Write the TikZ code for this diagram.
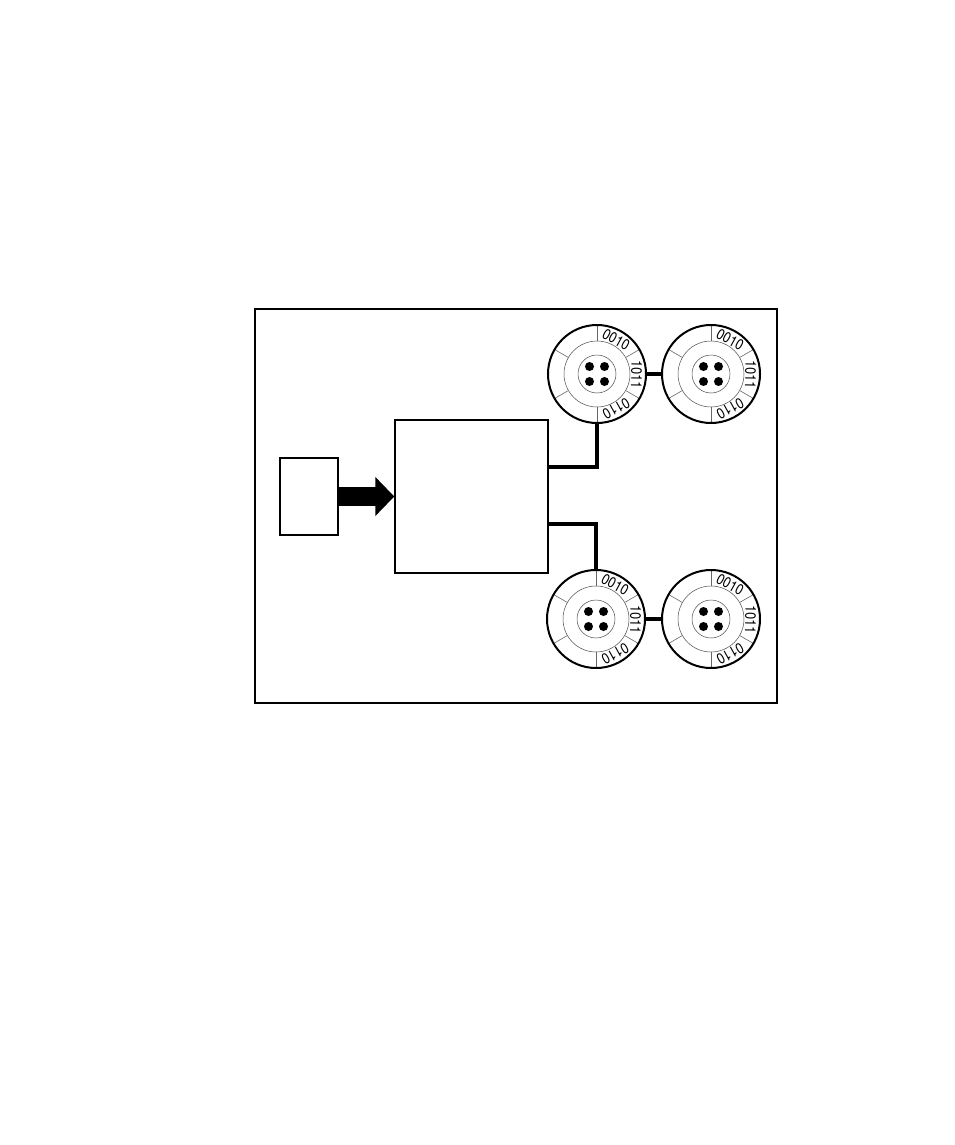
\documentclass[tikz,border=0pt]{standalone}
\usepackage{fontspec}
\newfontfamily\bitfont[FakeStretch=0.85]{TeX Gyre Heros}
\usetikzlibrary{positioning, arrows.meta, calc}

\begin{document}
\begin{tikzpicture}[x=1pt, y=-1pt,
    pbox/.style={draw, line width=1.4pt, inner sep=0pt},
    rim/.style={circle, draw, line width=2pt, inner sep=0pt, minimum size=98pt},
    ring/.style={circle, draw, black!70, line width=0.5pt, inner sep=0pt},
    pin/.style={circle, fill=black, inner sep=0pt, minimum size=9pt},
    spoke/.style={black!60, line width=0.6pt},
    bitword/.style={font=\bitfont\fontsize{15}{15}\selectfont, inner sep=0pt},
    wire/.style={line width=4pt}]
    \useasboundingbox (0,0) rectangle (954,1145);
    \node[pbox, minimum width=522pt, minimum height=394pt] (frame) at (516,506) {};
    \node[pbox, minimum width=58pt, minimum height=77pt] (source) at (309,496.5) {};
    \node[pbox, minimum width=153pt, minimum height=153pt] (main) at (471.5,496.5) {};
    \foreach \n/\cx/\cy in {disca/597/374, discb/711/374, discc/596/619, discd/711/619} {
      \node[ring, minimum size=66pt] (\n-mid) at (\cx,\cy) {};
      \node[ring, minimum size=38pt] (\n-hub) at (\cx,\cy) {};
      \foreach \a in {90,30,-30,-90,150,210}
        \draw[spoke] (\n-mid.\a) -- ([shift={(\a:49pt)}]\n-mid.center);
      \foreach \px/\py in {-7.5/-7.5, 7.5/-7.5, -7.5/7.5, 7.5/7.5}
        \node[pin] at ([shift={(\px pt,-\py pt)}]\n-mid.center) {};
      \foreach \a/\w in {61/0010, -1/1011, -61/0110}
        \node[bitword, rotate=\a-90] (\n-\w) at ([shift={(\a:39.5pt)}]\n-mid.center) {\w};
      \node[rim] (\n) at (\cx,\cy) {};
    }
    \draw[line width=19pt, -{Triangle[length=19pt, width=38pt]}] (source) -- (main);
    \draw[wire] (main.east |- 0,467) -| (disca.south);
    \draw[wire] (main.east |- 0,524) -| (discc.north);
    \draw[wire] (disca) -- (discb);
    \draw[wire] (discc) -- (discd);
  \end{tikzpicture}
\end{document}
